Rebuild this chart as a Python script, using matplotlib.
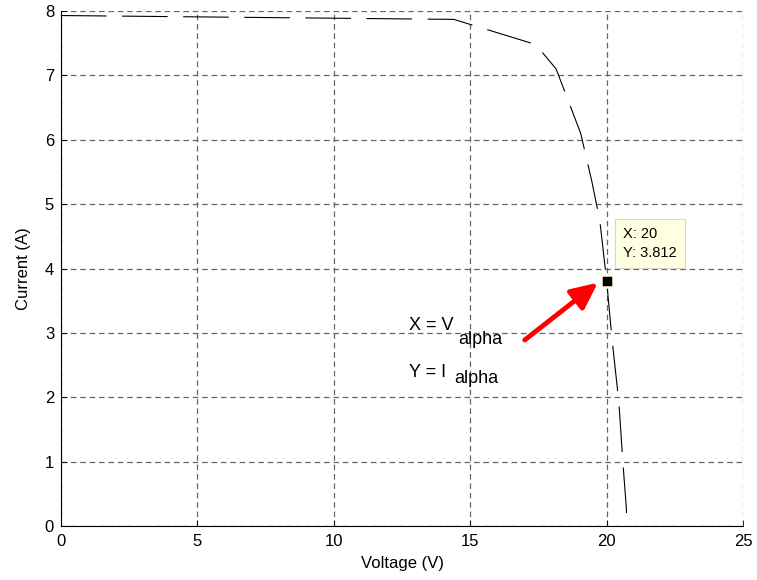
#!/usr/bin/env python3
"""I-V curve of the PV module with the data tip at the alpha point."""
import matplotlib
matplotlib.use("Agg")
import matplotlib.pyplot as plt

plt.rcParams["font.family"] = ["Liberation Sans", "DejaVu Sans"]

# I-V samples (volts, amps)
voltage = [0.0, 14.4, 17.4, 18.15, 19.05, 19.45, 19.75, 20.0,
           20.2, 20.45, 20.6, 20.72, 20.75]
current = [7.93, 7.87, 7.48, 7.10, 6.10, 5.37, 4.75, 3.812,
           2.90, 1.92, 0.97, 0.30, 0.0]

# Data tip
tip_v = 20
tip_i = 3.812

x_ticks = [0, 5, 10, 15, 20, 25]
y_ticks = [0, 1, 2, 3, 4, 5, 6, 7, 8]

fig = plt.figure(figsize=(7.57, 5.8), dpi=100)
ax = fig.add_axes([0.0806, 0.0931, 0.9009, 0.8879])

ax.plot(voltage, current, color="black", lw=0.8, dashes=(41, 14))

ax.set_xlim(0, 25)
ax.set_ylim(0, 8)
ax.set_xticks(x_ticks)
ax.set_yticks(y_ticks)
ax.grid(True, color="0.4", lw=0.9, linestyle=(0, (4.5, 3)))
ax.set_axisbelow(True)
for side in ("top", "right"):
    ax.spines[side].set_visible(False)
for side in ("left", "bottom"):
    ax.spines[side].set_color("black")
    ax.spines[side].set_linewidth(0.8)
ax.tick_params(direction="in", length=4, width=0.6, labelsize=12)
ax.tick_params(axis="x", pad=6)
ax.tick_params(axis="y", pad=5)
ax.set_xlabel("Voltage (V)", fontsize=12, labelpad=5)
ax.set_ylabel("Current (A)", fontsize=12, labelpad=10)

# Data tip marker and its label box
ax.plot([tip_v], [tip_i], marker="s", ms=8, color="black",
        mec="#FFFFE1", mew=1.8, zorder=5)
ax.annotate(f"X: {tip_v}\nY: {tip_i}", xy=(tip_v, tip_i),
            xytext=(12, 15), textcoords="offset points",
            fontsize=10.5, va="bottom", ha="left", linespacing=1.45,
            bbox=dict(boxstyle="square,pad=0.55", fc="#FFFFE1",
                      ec="#D8D8C8", lw=0.8), zorder=6)

# Red pointer arrow
ax.annotate("", xy=(19.68, 3.78), xytext=(17.0, 2.89),
            arrowprops=dict(arrowstyle="-|>,head_length=1.6,head_width=0.75",
                            color="red", lw=3.5, shrinkA=0, shrinkB=0),
            zorder=4)

# Alpha labels
ax.text(12.76, 3.12, "X = V", fontsize=13, ha="left", va="center")
ax.text(14.55, 2.90, "alpha", fontsize=13, ha="left", va="center")
ax.text(12.76, 2.39, "Y = I", fontsize=13, ha="left", va="center")
ax.text(14.42, 2.29, "alpha", fontsize=13, ha="left", va="center")

fig.savefig("out.png", dpi=100, facecolor="white")
